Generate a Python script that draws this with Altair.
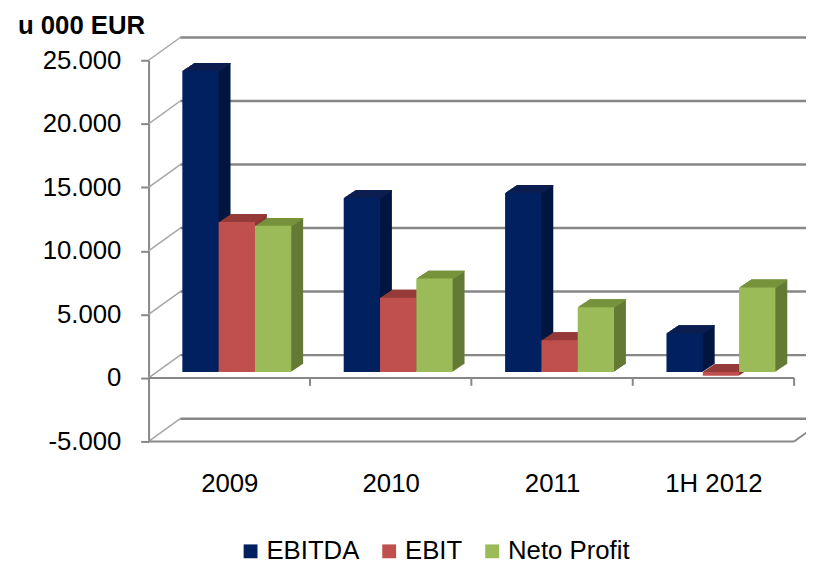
import json
import altair as alt
import pandas as pd

# ---------------- data ----------------
categories = ["2009", "2010", "2011", "1H 2012"]
series = ["EBITDA", "EBIT", "Neto Profit"]
ebitda = [23700, 13700, 14100, 3050]
ebit = [11800, 5850, 2500, -300]
neto_profit = [11500, 7350, 5100, 6650]
y_ticks = [-5000, 0, 5000, 10000, 15000, 20000, 25000]

# ---------------- style ----------------
front_colors = ["#002060", "#c0504d", "#9bbb59"]
side_colors = ["#001540", "#8a3533", "#637a35"]
top_colors = ["#0c1e50", "#953b38", "#77933c"]
GRID = "#878787"
DIAG = "#a6a6a6"
FONT = "Liberation Sans"
FS = 26

W, H = 652, 385
PAD = {"left": 142, "top": 50, "right": 12, "bottom": 120}
GROUP_LEFT = 0.16      # start of bar group inside a category (category units)
BAR_W = 0.225          # bar width (category units)
PLANE_DX, PLANE_DY = 8, -6
DEPTH_DX, DEPTH_DY = 12, -8
STEPS = 12
BACK_DX, BACK_DY = 32, -23

rows = []
for ci, cat in enumerate(categories):
    for si, vals in enumerate([ebitda, ebit, neto_profit]):
        v = vals[ci]
        x0 = ci + GROUP_LEFT + si * BAR_W
        rows.append(dict(category=cat, series=series[si], value=v,
                         x0=x0, x1=x0 + BAR_W, bot=min(v, 0), top=max(v, 0),
                         side=side_colors[si], topc=top_colors[si]))
bars = pd.DataFrame(rows)
grid_df = pd.DataFrame({"v": y_ticks})
bounds_df = pd.DataFrame({"b": list(range(1, len(categories) + 1))})

xs = alt.Scale(domain=[0, len(categories)], nice=False, zero=False)
ys = alt.Scale(domain=[y_ticks[0], y_ticks[-1]], nice=False, zero=False)

def X0(field="x0:Q"):
    return alt.X(field, scale=xs, axis=None)

def Y0(field="v:Q"):
    return alt.Y(field, scale=ys, axis=None)

layers = []

# back-wall gridlines
layers.append(
    alt.Chart(grid_df).mark_rule(color=GRID, strokeWidth=2.5, xOffset=BACK_DX, x2Offset=BACK_DX,
                                 yOffset=BACK_DY).encode(
        x=alt.XDatum(0, type="quantitative", scale=xs, axis=None),
        x2=alt.X2Datum(len(categories)),
        y=Y0())
)
# left-wall diagonals
layers.append(
    alt.Chart(grid_df).mark_rule(color=DIAG, strokeWidth=1.5, x2Offset=BACK_DX, y2Offset=BACK_DY).encode(
        x=alt.XDatum(0, type="quantitative", scale=xs, axis=None),
        x2=alt.X2Datum(0),
        y=Y0(), y2="v:Q")
)
# right floor diagonal at the lowest level
layers.append(
    alt.Chart(pd.DataFrame({"v": [y_ticks[0]]})).mark_rule(color=GRID, strokeWidth=2, x2Offset=BACK_DX,
                                                            y2Offset=BACK_DY).encode(
        x=alt.XDatum(len(categories), type="quantitative", scale=xs, axis=None),
        x2=alt.X2Datum(len(categories)),
        y=Y0(), y2="v:Q")
)

# 3D depth: side copies
for k in range(1, STEPS + 1):
    dx = PLANE_DX + k * DEPTH_DX / STEPS
    dy = PLANE_DY + k * DEPTH_DY / STEPS
    layers.append(
        alt.Chart(bars).mark_bar(xOffset=dx, x2Offset=dx, yOffset=dy, y2Offset=dy).encode(
            x=X0(), x2="x1:Q", y=Y0("bot:Q"), y2="top:Q",
            fill=alt.Fill("side:N", scale=None))
    )
# 3D depth: top faces
for k in range(1, STEPS + 1):
    dx = PLANE_DX + k * DEPTH_DX / STEPS
    dy = PLANE_DY + k * DEPTH_DY / STEPS
    layers.append(
        alt.Chart(bars).mark_bar(xOffset=dx, x2Offset=dx, yOffset=dy, y2Offset=dy + 1.3).encode(
            x=X0(), x2="x1:Q", y=Y0("top:Q"), y2="top:Q",
            fill=alt.Fill("topc:N", scale=None))
    )

label_expr_y = "(datum.value < 0 ? '-' : '') + replace(format(abs(datum.value), ','), ',', '.')"
label_expr_x = json.dumps(categories) + "[floor(datum.value)]"

# front faces (with axes and legend)
layers.append(
    alt.Chart(bars).mark_bar(xOffset=PLANE_DX, x2Offset=PLANE_DX, yOffset=PLANE_DY, y2Offset=PLANE_DY).encode(
        x=alt.X("x0:Q", scale=xs, axis=alt.Axis(
            values=[i + 0.5 for i in range(len(categories))], labelExpr=label_expr_x,
            tickSize=0, domain=False, grid=False, title=None, labelFontSize=FS,
            labelFont=FONT, labelColor="black", labelPadding=30, labelOverlap=False)),
        x2="x1:Q",
        y=alt.Y("bot:Q", scale=ys, axis=alt.Axis(
            values=y_ticks, labelExpr=label_expr_y, grid=False, title=None,
            labelFontSize=FS, labelFont=FONT, labelColor="black", labelPadding=20,
            labelOverlap=False,
            tickSize=8, tickColor=GRID, tickWidth=2, domainColor=GRID, domainWidth=2)),
        y2="top:Q",
        color=alt.Color("series:N", scale=alt.Scale(domain=series, range=front_colors),
                        sort=series,
                        legend=alt.Legend(orient="none", legendX=90, legendY=483, direction="horizontal",
                                          title=None, symbolType="square", symbolSize=196,
                                          symbolStrokeWidth=0, labelFontSize=FS, labelFont=FONT,
                                          labelColor="black", labelOffset=3, columnPadding=17)))
)

# front lines: zero line, bottom line and category ticks
layers.append(
    alt.Chart(grid_df[grid_df.v.isin([y_ticks[0], 0])]).mark_rule(color=GRID, strokeWidth=2).encode(
        x=alt.XDatum(0, type="quantitative", scale=xs, axis=None),
        x2=alt.X2Datum(len(categories)),
        y=Y0())
)
layers.append(
    alt.Chart(bounds_df).mark_rule(color=GRID, strokeWidth=2, y2Offset=8).encode(
        x=alt.X("b:Q", scale=xs, axis=None),
        y=alt.YDatum(0, type="quantitative", scale=ys, axis=None),
        y2=alt.Y2Datum(0))
)

chart = alt.layer(*layers).resolve_axis(x="independent", y="independent").properties(
    width=W, height=H,
    autosize=alt.AutoSizeParams(type="none"),
    padding=PAD,
    title=alt.TitleParams(text="u 000 EUR", anchor="start", frame="group", fontSize=26,
                          fontWeight="bold", font=FONT, color="black", dx=-132, dy=11, offset=8),
).configure_view(strokeWidth=0)

chart.save("out.html", embed_options={"renderer": "svg", "actions": False})
